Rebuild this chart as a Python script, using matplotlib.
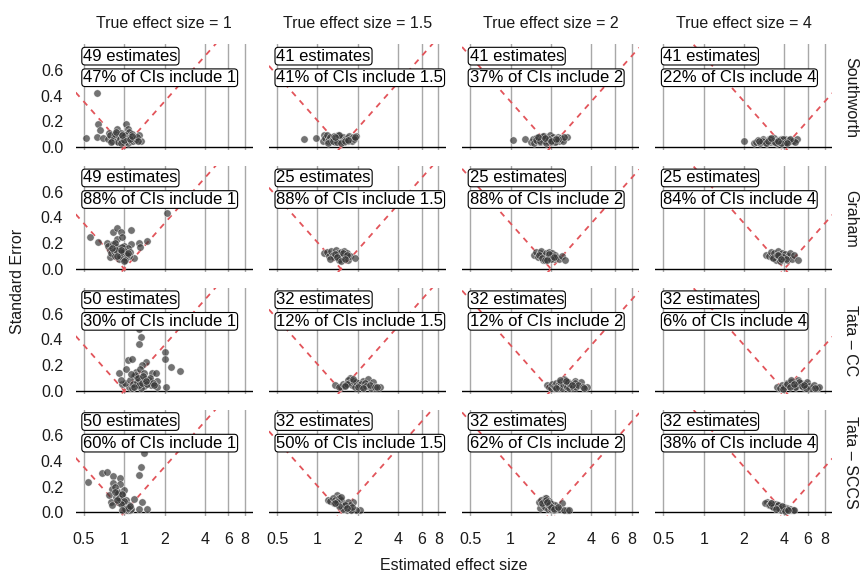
import numpy as np
import matplotlib
matplotlib.use("Agg")
import matplotlib.pyplot as plt
import matplotlib.transforms as mtransforms

plt.rcParams['font.family'] = ['Liberation Sans', 'DejaVu Sans']

truths = [1, 1.5, 2, 4]
truth_labels = ["1", "1.5", "2", "4"]
methods = ["Southworth", "Graham", "Tata \u2013 CC", "Tata \u2013 SCCS"]
x_ticks = [0.5, 1, 2, 4, 6, 8]
x_tick_labels = ["0.5", "1", "2", "4", "6", "8"]
y_ticks = [0.0, 0.2, 0.4, 0.6]

n_sw = [49, 41, 41, 41]
pct_sw = [47, 41, 37, 22]
n_gr = [49, 25, 25, 25]
pct_gr = [88, 88, 88, 84]
n_cc = [50, 32, 32, 32]
pct_cc = [30, 12, 12, 6]
n_sccs = [50, 32, 32, 32]
pct_sccs = [60, 50, 62, 38]

# Southworth
sw1_x = [0.63, 0.52, 0.64, 0.66, 0.63, 0.69, 0.77, 0.82, 0.89, 1.03, 1.06, 1.09, 1.33, 1.29,
         0.76, 0.79, 0.81, 0.84, 0.86, 0.88, 0.9, 0.92, 0.93, 0.95, 0.97, 0.98, 1.0, 1.01, 1.02,
         1.04, 1.05, 1.07, 1.08, 1.1, 1.12, 1.14, 1.16, 1.18, 1.2, 1.22, 1.25, 1.27, 0.87, 0.94,
         0.99, 1.11, 1.15, 0.8, 0.96]
sw1_y = [0.42, 0.073, 0.18, 0.13, 0.08, 0.073, 0.107, 0.08, 0.14, 0.18, 0.14, 0.12, 0.047, 0.094,
         0.06, 0.09, 0.045, 0.07, 0.1, 0.05, 0.04, 0.085, 0.06, 0.11, 0.05, 0.075, 0.04, 0.065, 0.09,
         0.05, 0.07, 0.035, 0.06, 0.08, 0.05, 0.1, 0.045, 0.07, 0.055, 0.06, 0.08, 0.05, 0.12, 0.035,
         0.055, 0.065, 0.085, 0.04, 0.095]
sw15_x = [0.80, 0.97, 1.13, 1.95, 1.1, 1.15, 1.18, 1.2, 1.22, 1.25, 1.27, 1.3, 1.32, 1.35, 1.37,
          1.4, 1.42, 1.45, 1.47, 1.5, 1.52, 1.55, 1.57, 1.6, 1.63, 1.66, 1.7, 1.73, 1.76, 1.8, 1.84,
          1.88, 1.92, 1.2, 1.3, 1.4, 1.5, 1.6, 1.7, 1.45, 1.35]
sw15_y = [0.0625, 0.068, 0.094, 0.086, 0.05, 0.07, 0.09, 0.045, 0.06, 0.08, 0.05, 0.065, 0.085,
          0.04, 0.07, 0.055, 0.09, 0.045, 0.06, 0.075, 0.05, 0.08, 0.04, 0.065, 0.055, 0.07, 0.045,
          0.085, 0.06, 0.05, 0.075, 0.065, 0.08, 0.035, 0.045, 0.04, 0.035, 0.05, 0.055, 0.09, 0.08]
sw2_x = [1.04, 1.29, 2.62, 1.43, 1.47, 1.5, 1.54, 1.58, 1.62, 1.66, 1.7, 1.74, 1.78, 1.82, 1.86,
         1.9, 1.94, 1.98, 2.02, 2.06, 2.1, 2.15, 2.2, 2.25, 2.3, 2.35, 2.4, 2.45, 2.5, 1.55, 1.65,
         1.75, 1.85, 1.95, 2.05, 2.15, 2.25, 1.6, 1.8, 2.0, 2.2]
sw2_y = [0.055, 0.06, 0.078, 0.04, 0.06, 0.035, 0.07, 0.05, 0.08, 0.04, 0.065, 0.055, 0.085, 0.045,
         0.07, 0.05, 0.06, 0.09, 0.04, 0.075, 0.055, 0.065, 0.045, 0.08, 0.05, 0.07, 0.06, 0.045,
         0.075, 0.055, 0.045, 0.085, 0.035, 0.065, 0.05, 0.04, 0.06, 0.075, 0.07, 0.05, 0.06]
sw4_x = [2.0, 2.36, 2.45, 2.55, 2.65, 2.75, 2.85, 2.95, 3.05, 3.15, 3.25, 3.35, 3.45, 3.55, 3.65,
         3.75, 3.85, 3.95, 4.05, 4.15, 4.3, 4.45, 4.6, 5.0, 4.8, 2.7, 2.9, 3.1, 3.3, 3.5, 3.7, 3.9,
         4.1, 4.4, 3.0, 3.4, 3.8, 3.2, 3.6, 2.6, 4.2]
sw4_y = [0.047, 0.03, 0.04, 0.055, 0.035, 0.06, 0.045, 0.03, 0.065, 0.04, 0.05, 0.07, 0.035, 0.055,
         0.045, 0.06, 0.03, 0.05, 0.065, 0.04, 0.055, 0.045, 0.05, 0.0625, 0.04, 0.05, 0.035, 0.06,
         0.045, 0.03, 0.055, 0.065, 0.04, 0.06, 0.05, 0.04, 0.035, 0.07, 0.05, 0.045, 0.03]

# Graham
gr1_x = [2.1, 0.56, 0.64, 0.82, 0.89, 0.94, 0.89, 0.96, 1.12, 1.12, 1.29, 1.49, 1.31, 0.74, 0.79,
         1.19, 0.76, 0.78, 0.8, 0.82, 0.84, 0.86, 0.88, 0.9, 0.92, 0.94, 0.96, 0.98, 1.0, 1.02,
         1.04, 1.06, 1.08, 1.1, 0.85, 0.91, 0.97, 1.03, 0.87, 0.93, 0.99, 1.05, 0.81, 0.95, 1.01,
         1.07, 0.89, 1.0, 0.94]
gr1_y = [0.435, 0.25, 0.21, 0.29, 0.32, 0.29, 0.23, 0.25, 0.30, 0.19, 0.2, 0.22, 0.17, 0.2, 0.09,
         0.083, 0.18, 0.15, 0.12, 0.19, 0.14, 0.1, 0.17, 0.13, 0.16, 0.11, 0.15, 0.12, 0.18, 0.09,
         0.14, 0.16, 0.1, 0.13, 0.2, 0.08, 0.17, 0.12, 0.15, 0.1, 0.14, 0.11, 0.16, 0.13, 0.07,
         0.12, 0.1, 0.06, 0.15]
gr15_x = [1.13, 1.18, 1.22, 1.26, 1.3, 1.34, 1.38, 1.42, 1.46, 1.5, 1.54, 1.58, 1.62, 1.66, 1.7,
          1.75, 1.9, 1.25, 1.35, 1.45, 1.55, 1.65, 1.4, 1.5, 1.6]
gr15_y = [0.12, 0.13, 0.1, 0.14, 0.11, 0.09, 0.145, 0.12, 0.08, 0.13, 0.1, 0.14, 0.09, 0.12, 0.065,
          0.1, 0.085, 0.08, 0.115, 0.07, 0.125, 0.11, 0.095, 0.06, 0.08]
gr2_x = [1.5, 1.55, 1.6, 1.65, 1.7, 1.75, 1.8, 1.85, 1.9, 1.95, 2.0, 2.05, 2.1, 2.15, 2.2, 2.3,
         2.4, 2.53, 1.62, 1.72, 1.82, 1.92, 2.02, 2.12, 1.88]
gr2_y = [0.11, 0.13, 0.09, 0.12, 0.135, 0.07, 0.11, 0.125, 0.09, 0.13, 0.1, 0.12, 0.08, 0.11,
         0.095, 0.075, 0.1, 0.07, 0.105, 0.085, 0.065, 0.115, 0.08, 0.095, 0.07]
gr4_x = [2.93, 3.05, 3.15, 3.25, 3.35, 3.45, 3.55, 3.65, 3.75, 3.85, 3.95, 4.05, 4.15, 4.25, 4.4,
         4.55, 4.75, 5.03, 3.3, 3.5, 3.7, 3.9, 4.1, 3.6, 3.8]
gr4_y = [0.11, 0.1, 0.13, 0.09, 0.12, 0.07, 0.14, 0.1, 0.08, 0.125, 0.09, 0.115, 0.065, 0.1, 0.12,
         0.08, 0.11, 0.07, 0.085, 0.105, 0.06, 0.095, 0.08, 0.11, 0.075]

# Tata - CC
cc1_x = [1.29, 1.33, 1.28, 2.02, 2.0, 1.06, 1.15, 1.45, 1.37, 1.03, 1.22, 1.32, 0.92, 2.6, 2.23,
         1.61, 1.72, 1.4, 1.19, 1.29, 1.52, 1.37, 1.76, 0.97, 1.09, 1.25, 1.41, 1.58, 1.77, 2.05,
         1.33, 1.14, 1.02, 1.1, 1.17, 1.2, 1.24, 1.27, 1.3, 1.35, 1.43, 1.48, 1.55, 1.65, 1.12,
         1.18, 1.38, 1.46, 1.68, 0.95]
cc1_y = [0.48, 0.42, 0.36, 0.30, 0.245, 0.24, 0.245, 0.22, 0.2, 0.167, 0.148, 0.167, 0.135, 0.154,
         0.18, 0.135, 0.135, 0.135, 0.115, 0.096, 0.083, 0.07, 0.078, 0.052, 0.031, 0.044, 0.036,
         0.044, 0.031, 0.031, 0.018, 0.018, 0.06, 0.08, 0.05, 0.12, 0.07, 0.1, 0.04, 0.06, 0.09,
         0.05, 0.1, 0.06, 0.13, 0.03, 0.11, 0.075, 0.04, 0.08]
cc15_x = [1.35, 1.5, 1.74, 1.78, 2.0, 2.19, 2.39, 2.6, 2.93, 2.53, 1.45, 1.55, 1.62, 1.68, 1.72,
          1.82, 1.86, 1.9, 1.95, 2.05, 2.1, 2.15, 2.25, 2.3, 2.45, 2.7, 2.8, 1.65, 1.85, 2.0, 2.2,
          1.6]
cc15_y = [0.044, 0.026, 0.096, 0.07, 0.057, 0.078, 0.088, 0.07, 0.026, 0.018, 0.03, 0.05, 0.04,
          0.08, 0.06, 0.045, 0.075, 0.03, 0.065, 0.04, 0.05, 0.025, 0.06, 0.035, 0.045, 0.025, 0.03,
          0.055, 0.09, 0.03, 0.02, 0.035]
cc2_x = [1.87, 2.5, 3.05, 3.33, 3.7, 1.95, 2.0, 2.05, 2.1, 2.15, 2.2, 2.25, 2.3, 2.35, 2.4, 2.45,
         2.55, 2.6, 2.65, 2.7, 2.75, 2.8, 2.9, 3.0, 3.1, 3.2, 3.45, 3.55, 2.35, 2.6, 2.85, 2.2]
cc2_y = [0.042, 0.094, 0.078, 0.068, 0.026, 0.03, 0.02, 0.05, 0.035, 0.025, 0.06, 0.04, 0.03, 0.07,
         0.02, 0.055, 0.085, 0.04, 0.03, 0.065, 0.02, 0.05, 0.03, 0.06, 0.025, 0.04, 0.03, 0.02,
         0.08, 0.075, 0.045, 0.018]
cc4_x = [3.52, 3.7, 3.85, 4.0, 4.15, 4.3, 4.45, 4.6, 4.75, 4.9, 5.05, 5.2, 5.35, 5.5, 5.7, 5.9,
         6.1, 6.3, 6.6, 7.0, 7.3, 3.9, 4.2, 4.5, 4.8, 5.1, 5.4, 5.8, 4.4, 4.7, 6.8, 5.6]
cc4_y = [0.03, 0.02, 0.045, 0.025, 0.06, 0.035, 0.07, 0.04, 0.055, 0.03, 0.086, 0.045, 0.06, 0.025,
         0.05, 0.07, 0.035, 0.02, 0.045, 0.02, 0.03, 0.016, 0.05, 0.08, 0.025, 0.065, 0.035, 0.02,
         0.03, 0.05, 0.02, 0.04]

# Tata - SCCS
sc1_x = [1.41, 1.33, 1.29, 0.68, 0.75, 0.54, 0.83, 0.93, 0.83, 0.93, 0.81, 0.88, 1.0, 0.77, 0.87,
         0.97, 1.03, 1.19, 0.8, 0.9, 1.37, 0.81, 1.0, 1.09, 1.29, 1.49, 1.06, 0.85, 0.9, 0.95,
         0.98, 1.01, 1.03, 1.05, 1.07, 1.09, 1.11, 1.13, 0.92, 0.96, 1.0, 1.04, 1.08, 0.86, 0.94,
         1.02, 1.06, 1.1, 0.88, 0.97]
sc1_y = [0.46, 0.35, 0.29, 0.31, 0.315, 0.24, 0.28, 0.27, 0.23, 0.22, 0.185, 0.17, 0.177, 0.133,
         0.12, 0.133, 0.1, 0.107, 0.08, 0.08, 0.08, 0.055, 0.06, 0.042, 0.029, 0.029, 0.021, 0.2,
         0.15, 0.1, 0.07, 0.05, 0.03, 0.04, 0.02, 0.06, 0.015, 0.03, 0.11, 0.14, 0.09, 0.015, 0.04,
         0.16, 0.065, 0.025, 0.035, 0.05, 0.1, 0.02]
sc15_x = [1.2, 1.39, 1.85, 2.07, 1.95, 1.25, 1.3, 1.33, 1.36, 1.42, 1.45, 1.48, 1.5, 1.52, 1.55,
          1.58, 1.6, 1.62, 1.65, 1.68, 1.7, 1.72, 1.75, 1.78, 1.8, 1.5, 1.55, 1.6, 1.65, 1.4, 1.45,
          1.35]
sc15_y = [0.1, 0.133, 0.08, 0.021, 0.02, 0.09, 0.115, 0.07, 0.1, 0.085, 0.11, 0.06, 0.095, 0.04,
          0.075, 0.05, 0.03, 0.065, 0.02, 0.045, 0.08, 0.03, 0.055, 0.02, 0.04, 0.12, 0.025, 0.06,
          0.035, 0.08, 0.05, 0.07]
sc2_x = [1.82, 1.67, 2.43, 2.65, 1.63, 1.7, 1.75, 1.78, 1.8, 1.85, 1.88, 1.9, 1.93, 1.96, 2.0, 2.03,
         2.06, 2.1, 2.15, 2.2, 2.3, 2.5, 1.72, 1.83, 1.98, 2.08, 1.92, 2.02, 2.12, 1.86, 2.25, 2.72]
sc2_y = [0.115, 0.036, 0.073, 0.02, 0.08, 0.1, 0.06, 0.09, 0.045, 0.11, 0.07, 0.03, 0.085, 0.05,
         0.025, 0.065, 0.04, 0.02, 0.055, 0.03, 0.025, 0.02, 0.07, 0.095, 0.075, 0.035, 0.06, 0.045,
         0.03, 0.08, 0.04, 0.018]
sc4_x = [2.97, 3.43, 4.5, 2.88, 3.05, 3.15, 3.25, 3.35, 3.5, 3.6, 3.7, 3.8, 3.9, 4.0, 4.1, 4.2,
         4.3, 4.4, 4.6, 4.7, 3.1, 3.3, 3.55, 3.75, 3.95, 4.15, 3.65, 3.85, 4.05, 3.2, 3.45, 4.25]
sc4_y = [0.08, 0.068, 0.016, 0.07, 0.06, 0.075, 0.05, 0.065, 0.04, 0.055, 0.03, 0.045, 0.025, 0.04,
         0.02, 0.035, 0.015, 0.03, 0.02, 0.015, 0.055, 0.045, 0.06, 0.02, 0.03, 0.025, 0.035, 0.05,
         0.01, 0.07, 0.03, 0.02]

panels = [
    [(sw1_x, sw1_y), (sw15_x, sw15_y), (sw2_x, sw2_y), (sw4_x, sw4_y)],
    [(gr1_x, gr1_y), (gr15_x, gr15_y), (gr2_x, gr2_y), (gr4_x, gr4_y)],
    [(cc1_x, cc1_y), (cc15_x, cc15_y), (cc2_x, cc2_y), (cc4_x, cc4_y)],
    [(sc1_x, sc1_y), (sc15_x, sc15_y), (sc2_x, sc2_y), (sc4_x, sc4_y)],
]
counts = [n_sw, n_gr, n_cc, n_sccs]
pcts = [pct_sw, pct_gr, pct_cc, pct_sccs]

W, H = 861, 571
fig = plt.figure(figsize=(W / 100, H / 100), dpi=100)

col_left = [75.7, 268.9, 462.1, 655.3]
pw = 177.0
zero_px = [147.0 + 121.8 * i for i in range(4)]
ylo, yhi = -0.025, 0.8
ppu = 128.5
ph = (yhi - ylo) * ppu
xlo, xhi = 0.435, 9.1

txt_col = '#1a1a1a'

for r in range(4):
    for c in range(4):
        bot = zero_px[r] - ylo * ppu
        ax = fig.add_axes([col_left[c] / W, 1 - bot / H, pw / W, ph / H])
        ax.set_xscale('log')
        ax.set_xlim(xlo, xhi)
        ax.set_ylim(ylo, yhi)
        for s in ax.spines.values():
            s.set_visible(False)
        for xv in x_ticks:
            ax.axvline(xv, color='#a8a8a8', lw=1.0, zorder=0)
        ax.axhline(0, color='black', lw=1.0, zorder=1)

        # funnel: estimate within 1.96 SE of the true effect
        t = truths[c]
        xx = np.geomspace(xlo, xhi, 200)
        ax.plot(xx, np.log(xx / t) / 1.96, color='#e2545a', lw=1.3,
                dashes=(3.2, 3.2), zorder=2)
        ax.plot(xx, -np.log(xx / t) / 1.96, color='#e2545a', lw=1.3,
                dashes=(3.2, 3.2), zorder=2)

        px, py = panels[r][c]
        ax.scatter(px, py, s=28, color='#383838', alpha=0.7,
                   edgecolors='white', linewidths=0.4, zorder=3)

        ax.set_xticks(x_ticks)
        ax.set_yticks(y_ticks)
        ax.minorticks_off()
        ax.tick_params(length=0, labelsize=11.5, colors=txt_col)
        ax.tick_params(axis='x', pad=11.5)
        ax.tick_params(axis='y', pad=9)
        if r == 3:
            ax.set_xticklabels(x_tick_labels)
        else:
            ax.set_xticklabels([])
        if c == 0:
            ax.set_yticklabels(["%.1f" % v for v in y_ticks])
        else:
            ax.set_yticklabels([])

        trans = mtransforms.blended_transform_factory(ax.transAxes, ax.transData)
        bbox = dict(boxstyle='round,pad=0.08,rounding_size=0.2', fc='white',
                    ec='black', lw=0.8)
        ax.text(0.042, 0.707, "%d estimates" % counts[r][c], transform=trans,
                fontsize=12, va='center', ha='left', bbox=bbox, zorder=5)
        ax.text(0.042, 0.539, "%d%% of CIs include %s" % (pcts[r][c], truth_labels[c]),
                transform=trans, fontsize=12, va='center', ha='left', bbox=bbox, zorder=5)

        if r == 0:
            ax.text(0.5, 1 - 24 / H, "True effect size = " + truth_labels[c],
                    transform=mtransforms.blended_transform_factory(ax.transAxes, fig.transFigure),
                    ha='center', va='center', fontsize=11.5, color=txt_col)
        if c == 3:
            ax.text(851 / W, 0.5, methods[r],
                    transform=mtransforms.blended_transform_factory(fig.transFigure, ax.transAxes),
                    ha='center', va='center', rotation=270, fontsize=11.5, color=txt_col)

fig.text(18 / W, 1 - 281 / H, "Standard Error", rotation=90, ha='center', va='center',
         fontsize=11.5, color=txt_col)
fig.text(454 / W, 1 - 565 / H, "Estimated effect size", ha='center', va='center',
         fontsize=11.5, color=txt_col)

fig.savefig("out.png", dpi=100)
